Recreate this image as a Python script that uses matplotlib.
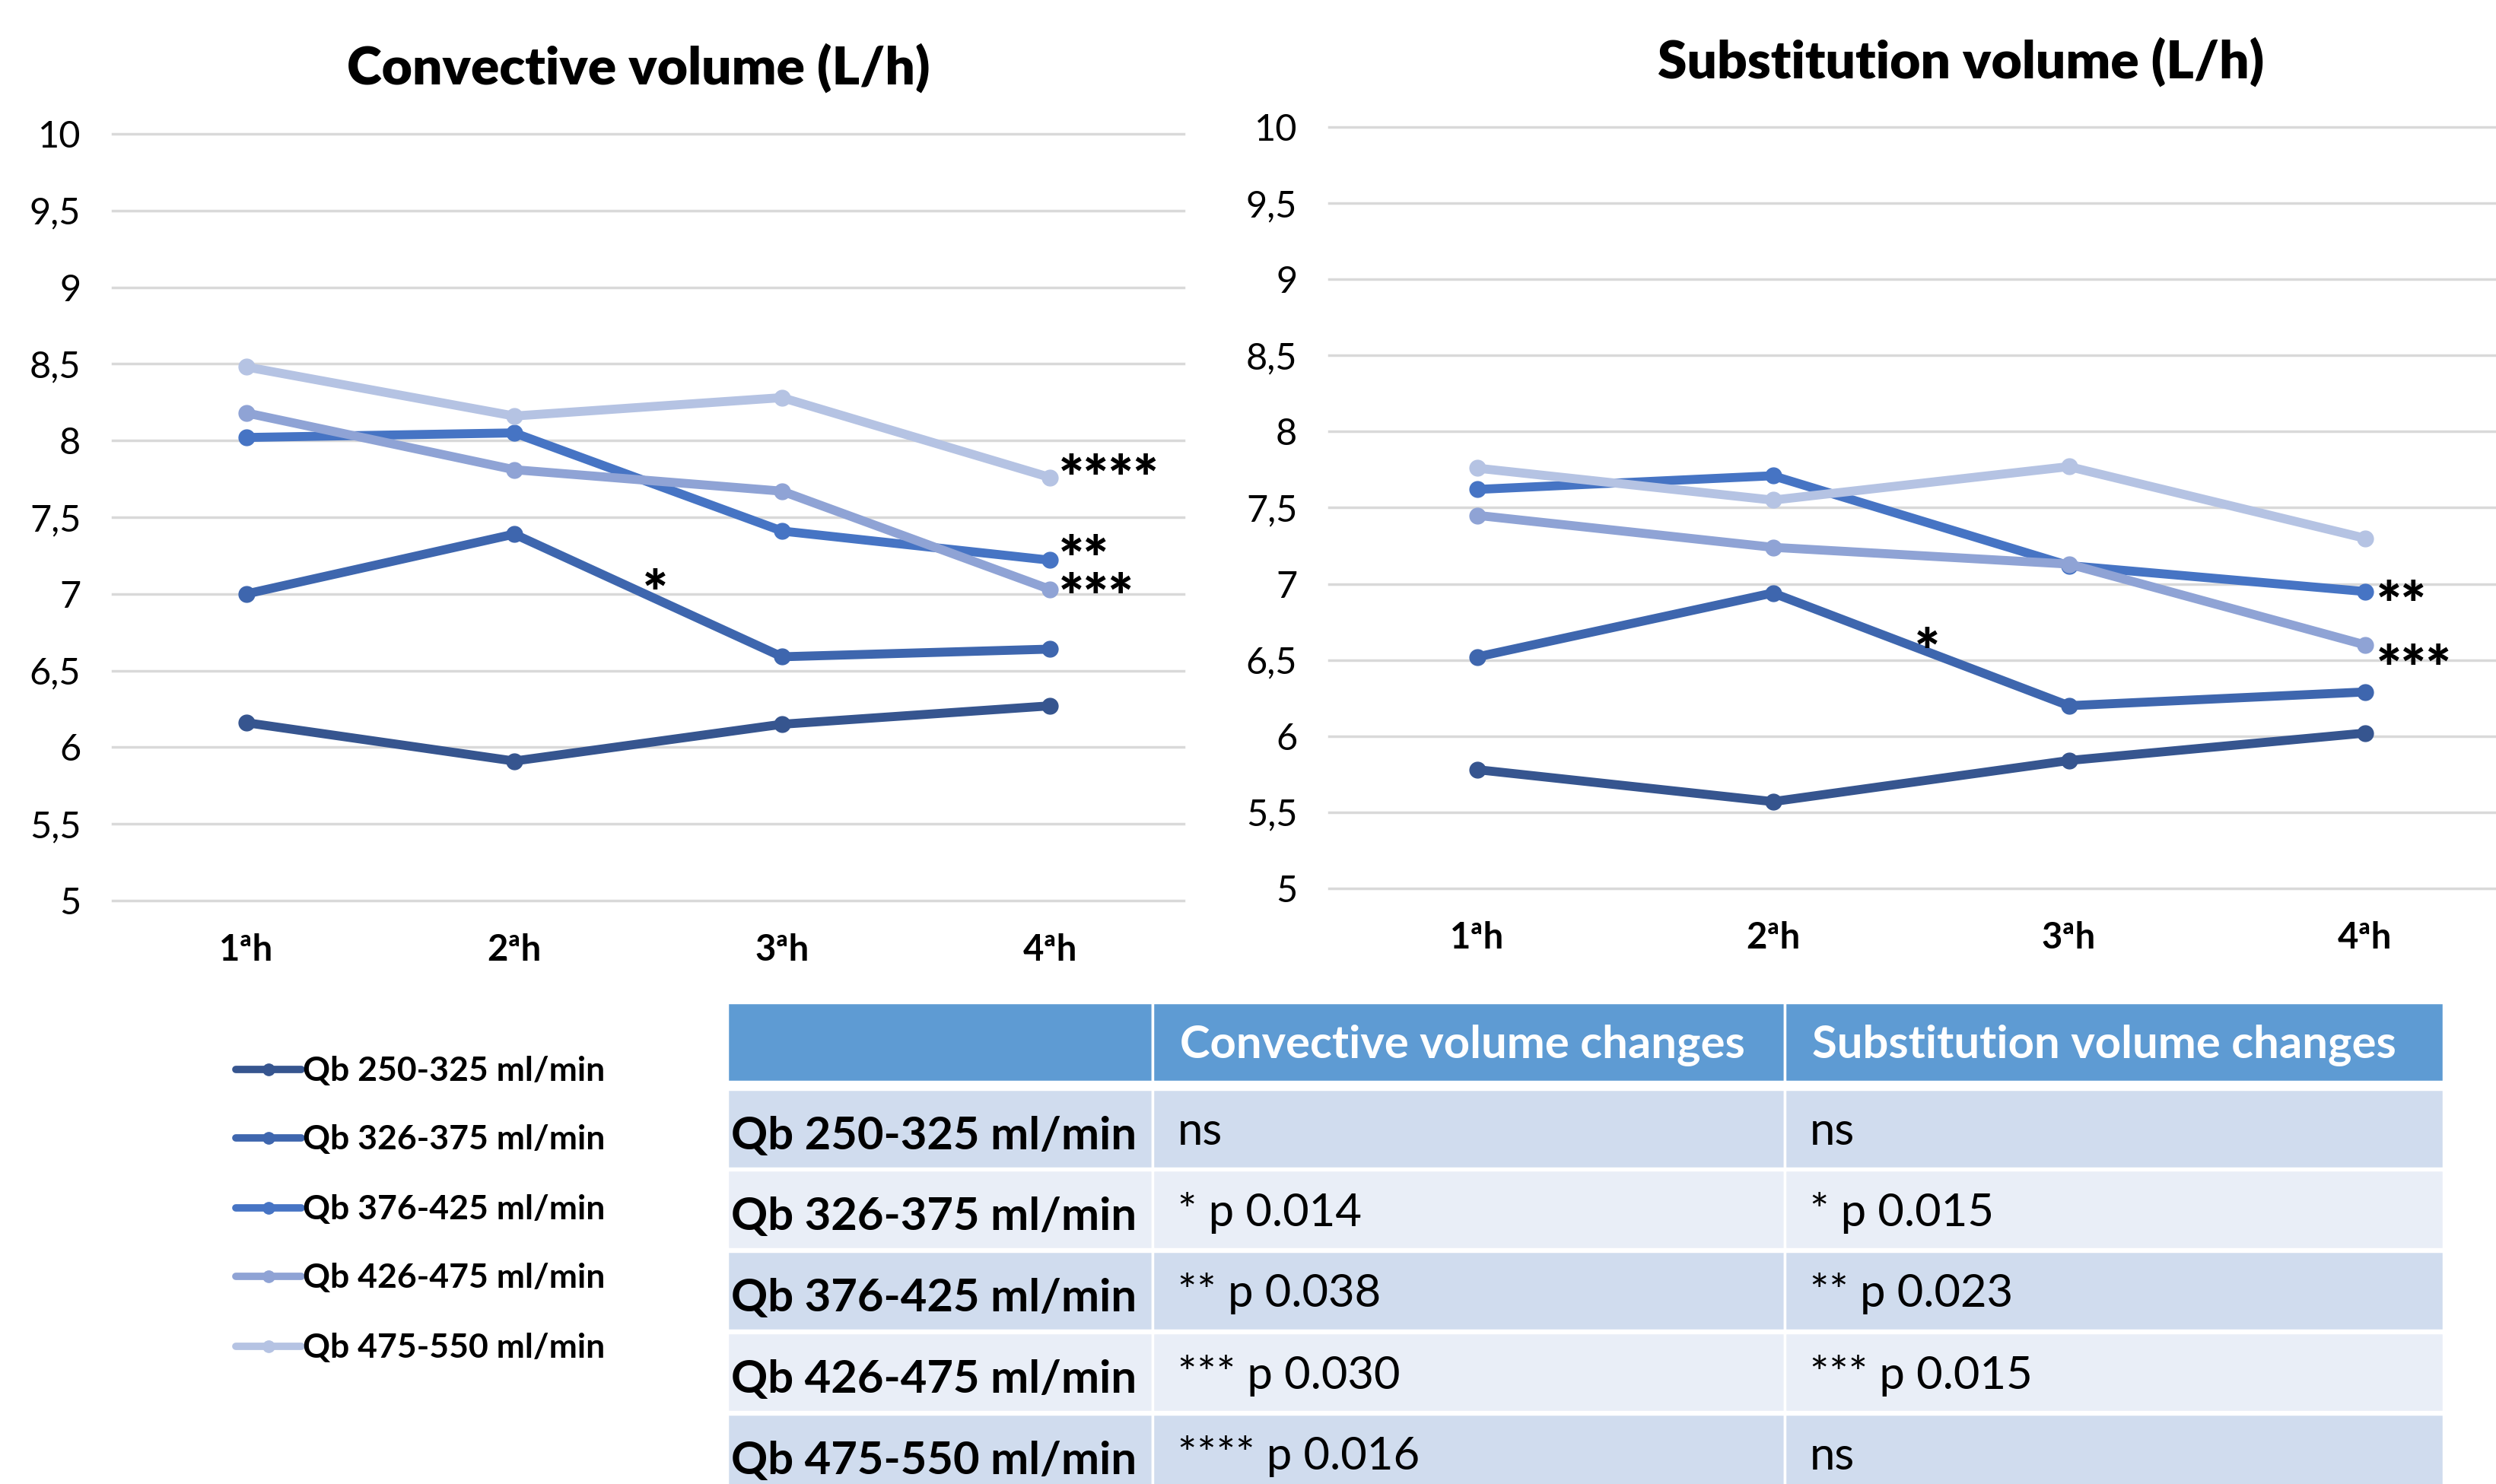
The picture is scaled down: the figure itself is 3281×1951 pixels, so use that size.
import matplotlib
matplotlib.use("Agg")
import matplotlib.pyplot as plt
from matplotlib.patches import Rectangle
from matplotlib.lines import Line2D

plt.rcParams['font.family'] = ['Lato', 'DejaVu Sans']

# ---------------- data ----------------
hours = ["1ªh", "2ªh", "3ªh", "4ªh"]
series_labels = ["Qb 250-325 ml/min", "Qb 326-375 ml/min", "Qb 376-425 ml/min",
                 "Qb 426-475 ml/min", "Qb 475-550 ml/min"]
convective_250_325 = [6.16, 5.91, 6.15, 6.27]
convective_326_375 = [7.00, 7.39, 6.59, 6.64]
convective_376_425 = [8.02, 8.05, 7.41, 7.22]
convective_426_475 = [8.18, 7.81, 7.67, 7.03]
convective_475_550 = [8.48, 8.16, 8.28, 7.76]

substitution_250_325 = [5.78, 5.57, 5.84, 6.02]
substitution_326_375 = [6.52, 6.94, 6.20, 6.29]
substitution_376_425 = [7.62, 7.71, 7.12, 6.95]
substitution_426_475 = [7.45, 7.24, 7.13, 6.60]
substitution_475_550 = [7.76, 7.55, 7.77, 7.30]

yticks = [5, 5.5, 6, 6.5, 7, 7.5, 8, 8.5, 9, 9.5, 10]
ytick_labels = ["5", "5,5", "6", "6,5", "7", "7,5", "8", "8,5", "9", "9,5", "10"]

table_header = ["", "Convective volume changes", "Substitution volume changes"]
table_convective = ["ns", "* p 0.014", "** p 0.038", "*** p 0.030", "**** p 0.016"]
table_substitution = ["ns", "* p 0.015", "** p 0.023", "*** p 0.015", "ns"]

colors = ["#36558F", "#3E66AE", "#4674C4", "#8FA3D5", "#B5C3E3"]

W, H = 3281, 1951
DPI = 100
fig = plt.figure(figsize=(W / DPI, H / DPI), dpi=DPI)

def fx(px):
    return px / W

def fy(py):
    return 1 - py / H

def make_axes(left, right, top, bottom):
    return fig.add_axes([fx(left), fy(bottom), fx(right - left), (bottom - top) / H])

def style_axes(ax, title, title_y, title_x):
    ax.set_xlim(-0.5, 3.5)
    ax.set_ylim(5, 10)
    ax.set_yticks(yticks)
    ax.set_yticklabels(ytick_labels, fontsize=35)
    ax.set_xticks(range(4))
    ax.set_xticklabels(hours, fontsize=34, fontweight='bold')
    ax.tick_params(axis='y', length=0, pad=30)
    ax.tick_params(axis='x', length=0, pad=31)
    for s in ax.spines.values():
        s.set_visible(False)
    ax.yaxis.grid(True, color="#D9D9D9", linewidth=2.5)
    for gl in ax.get_ygridlines():
        gl.set_clip_on(False)
    ax.set_axisbelow(True)
    fig.text(fx(title_x), fy(title_y), title, fontsize=50, fontweight='heavy',
             ha='center', va='center')

conv = [convective_250_325, convective_326_375, convective_376_425,
        convective_426_475, convective_475_550]
subs = [substitution_250_325, substitution_326_375, substitution_376_425,
        substitution_426_475, substitution_475_550]

ax1 = make_axes(148, 1556, 176, 1184)
style_axes(ax1, "Convective volume (L/h)", 90, 839)
for vals, c in zip(conv, colors):
    ax1.plot(range(4), vals, color=c, linewidth=8.5, marker='o', markersize=15,
             solid_capstyle='round')

ax2 = make_axes(1747, 3303, 167, 1168)
style_axes(ax2, "Substitution volume (L/h)", 82, 2578)
for vals, c in zip(subs, colors):
    ax2.plot(range(4), vals, color=c, linewidth=8.5, marker='o', markersize=15,
             solid_capstyle='round')

star_kw = dict(fontsize=56, fontweight='heavy', ha='left', va='center', color='black')
ax1.text(3.035, 7.73, "****", **star_kw)
# the "**" and "***" marks sit very close together: one two-line text
ax1.text(3.035, 7.08, "**\n***", linespacing=0.64, multialignment='left', **star_kw)
ax1.text(1.48, 6.98, "*", **star_kw)
ax2.text(3.04, 6.84, "**", **star_kw)
ax2.text(3.04, 6.42, "***", **star_kw)
ax2.text(1.48, 6.53, "*", **star_kw)

# ---------------- overlay (legend + table) in pixel coordinates ----------------
ov = fig.add_axes([0, 0, 1, 1])
ov.set_xlim(0, W)
ov.set_ylim(H, 0)
ov.axis('off')

legend_rows = [1406, 1496, 1588, 1678, 1770]
for lab, c, yy in zip(series_labels, colors, legend_rows):
    ov.add_line(Line2D([310, 396], [yy, yy], color=c, linewidth=7,
                       solid_capstyle='round'))
    ov.plot([353], [yy], marker='o', markersize=11, color=c)
    ov.text(398, yy + 2, lab, fontsize=32, fontweight='bold', ha='left', va='center')

col_x = [956, 1515, 2346, 3212]
header_top, header_bot = 1318, 1422
row_tops = [1432, 1538, 1645, 1752, 1859]
row_h = 104
row_colors = ["#D0DCEE", "#E9EEF7", "#D0DCEE", "#E9EEF7", "#D0DCEE"]

for i in range(3):
    ov.add_patch(Rectangle((col_x[i], header_top), col_x[i + 1] - col_x[i],
                           header_bot - header_top, facecolor="#5E9BD3",
                           edgecolor='white', linewidth=2.5))
    if table_header[i]:
        ov.text(col_x[i] + 36, (header_top + header_bot) / 2 + 4, table_header[i],
                fontsize=43, fontweight='bold', color='white', ha='left', va='center')

for r in range(5):
    y0 = row_tops[r]
    cells = [series_labels[r], table_convective[r], table_substitution[r]]
    for i in range(3):
        ov.add_patch(Rectangle((col_x[i], y0), col_x[i + 1] - col_x[i], row_h,
                               facecolor=row_colors[r], edgecolor='white', linewidth=2.5))
        if i == 0:
            ov.text(col_x[i] + 5, y0 + row_h / 2 + 10, cells[i], fontsize=43,
                    fontweight='bold', ha='left', va='center')
        else:
            ov.text(col_x[i] + 33, y0 + row_h / 2 + 4, cells[i], fontsize=43,
                    ha='left', va='center')

fig.savefig("out.png", dpi=DPI)
